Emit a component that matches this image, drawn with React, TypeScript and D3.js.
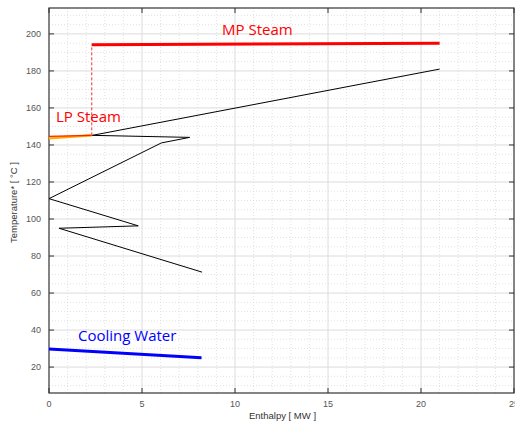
import React, { useEffect, useRef } from 'react';
import * as d3 from 'd3';

// --- Data ---
const processCurveH = [21, 2.33, 7.56, 6.04, 0, 4.8, 0.54, 8.23];
const processCurveT = [181, 145.2, 144.1, 141.1, 111, 96.3, 95, 71.3];
const mpSteamH = [2.3, 21];
const mpSteamT = [194.2, 195];
const lpSteamH = [0, 2.3];
const lpSteamT = [144.6, 145.2];
const lpSteamLowT = [143.6, 145.2];
const coolingH = [0, 8.2];
const coolingT = [29.8, 25];
const xTicks = [0, 5, 10, 15, 20, 25];
const yTicks = [20, 40, 60, 80, 100, 120, 140, 160, 180, 200];

const W = 515;
const H = 426;
const margin = { left: 49, right: 1, top: 8, bottom: 33 };

export default function App() {
  const svgRef = useRef<SVGSVGElement>(null);

  useEffect(() => {
    const svg = d3.select(svgRef.current);
    svg.selectAll('*').remove();

    const x = d3.scaleLinear().domain([0, 25]).range([margin.left, W - margin.right]);
    const y = d3.scaleLinear().domain([6, 214]).range([H - margin.bottom, margin.top]);
    const [x0, x1] = x.range();
    const [y0, y1] = y.range();

    // minor grid (dotted)
    const grid = svg.append('g');
    grid.selectAll('line.mx')
      .data(d3.range(1, 25).filter(v => v % 5 !== 0))
      .join('line')
      .attr('x1', d => x(d)).attr('x2', d => x(d))
      .attr('y1', y0).attr('y2', y1)
      .attr('stroke', '#d6d6d6').attr('stroke-width', 0.7)
      .attr('stroke-dasharray', '1,2');
    grid.selectAll('line.my')
      .data(d3.range(10, 214, 5).filter(v => v % 20 !== 0))
      .join('line')
      .attr('x1', x0).attr('x2', x1)
      .attr('y1', d => y(d)).attr('y2', d => y(d))
      .attr('stroke', '#d6d6d6').attr('stroke-width', 0.7)
      .attr('stroke-dasharray', '1,2');

    // major grid
    grid.selectAll('line.gx')
      .data(xTicks.slice(1, -1))
      .join('line')
      .attr('x1', d => x(d)).attr('x2', d => x(d))
      .attr('y1', y0).attr('y2', y1)
      .attr('stroke', '#dcdcdc').attr('stroke-width', 1);
    grid.selectAll('line.gy')
      .data(yTicks)
      .join('line')
      .attr('x1', x0).attr('x2', x1)
      .attr('y1', d => y(d)).attr('y2', d => y(d))
      .attr('stroke', '#dcdcdc').attr('stroke-width', 1);

    // ticks, inward on all four sides
    const tk = svg.append('g').attr('stroke', '#333').attr('stroke-width', 1);
    xTicks.forEach(v => {
      tk.append('line').attr('x1', x(v)).attr('x2', x(v)).attr('y1', y0).attr('y2', y0 - 5);
      tk.append('line').attr('x1', x(v)).attr('x2', x(v)).attr('y1', y1).attr('y2', y1 + 5);
    });
    yTicks.forEach(v => {
      tk.append('line').attr('x1', x0).attr('x2', x0 + 5).attr('y1', y(v)).attr('y2', y(v));
      tk.append('line').attr('x1', x1).attr('x2', x1 - 5).attr('y1', y(v)).attr('y2', y(v));
    });

    // frame
    svg.append('rect')
      .attr('x', x0).attr('y', y1)
      .attr('width', x1 - x0).attr('height', y0 - y1)
      .attr('fill', 'none').attr('stroke', '#333').attr('stroke-width', 1.2);

    // tick labels
    const lbl = svg.append('g')
      .attr('font-family', 'Liberation Sans, Arial, sans-serif')
      .attr('font-size', 9).attr('fill', '#555');
    lbl.selectAll('text.xt')
      .data(xTicks)
      .join('text')
      .attr('x', d => x(d)).attr('y', y0 + 14)
      .attr('text-anchor', 'middle')
      .text(d => d);
    lbl.selectAll('text.yt')
      .data(yTicks)
      .join('text')
      .attr('x', x0 - 8).attr('y', d => y(d) + 3)
      .attr('text-anchor', 'end')
      .text(d => d);

    // axis titles
    svg.append('text')
      .attr('x', (x0 + x1) / 2 + 1).attr('y', H - 7)
      .attr('text-anchor', 'middle')
      .attr('font-family', 'Liberation Sans, Arial, sans-serif')
      .attr('font-size', 9.5).attr('fill', '#333')
      .text('Enthalpy [ MW ]');
    svg.append('text')
      .attr('transform', `translate(17,${(y0 + y1) / 2 + 2}) rotate(-90)`)
      .attr('text-anchor', 'middle')
      .attr('font-family', 'Liberation Sans, Arial, sans-serif')
      .attr('font-size', 9.5).attr('fill', '#333')
      .text('Temperature* [ °C ]');

    const line = d3.line<[number, number]>().x(d => x(d[0])).y(d => y(d[1]));
    const pts = (hs: number[], ts: number[]) => hs.map((h, i) => [h, ts[i]] as [number, number]);

    // dashed link between LP and MP steam
    svg.append('path')
      .attr('d', line([[mpSteamH[0], lpSteamT[1]], [mpSteamH[0], mpSteamT[0]]]))
      .attr('stroke', '#f03030').attr('stroke-width', 1)
      .attr('stroke-dasharray', '3,2').attr('fill', 'none');

    // process curve
    svg.append('path')
      .attr('d', line(pts(processCurveH, processCurveT)))
      .attr('stroke', '#000').attr('stroke-width', 1).attr('fill', 'none');

    // MP steam
    svg.append('path')
      .attr('d', line(pts(mpSteamH, mpSteamT)))
      .attr('stroke', '#ff0000').attr('stroke-width', 3).attr('fill', 'none');

    // LP steam (orange under red)
    svg.append('path')
      .attr('d', line(pts(lpSteamH, lpSteamLowT)))
      .attr('stroke', '#ffb000').attr('stroke-width', 2.5).attr('fill', 'none');
    svg.append('path')
      .attr('d', line(pts(lpSteamH, lpSteamT)))
      .attr('stroke', '#ff2000').attr('stroke-width', 1.3).attr('fill', 'none');

    // cooling water
    svg.append('path')
      .attr('d', line(pts(coolingH, coolingT)))
      .attr('stroke', '#0000ff').attr('stroke-width', 3).attr('fill', 'none');

    // stream labels
    const ann = svg.append('g')
      .attr('font-family', 'Open Sans, Noto Sans, sans-serif')
      .attr('font-size', 15);
    ann.append('text').attr('x', 222).attr('y', 35).attr('fill', '#ff0000').text('MP Steam');
    ann.append('text').attr('x', 56).attr('y', 122).attr('fill', '#ff0000').text('LP Steam');
    ann.append('text').attr('x', 78).attr('y', 341).attr('fill', '#0000ff').text('Cooling Water');
  }, []);

  return (
    <svg ref={svgRef} width={W} height={H} style={{ position: 'absolute', left: 0, top: 0 }} />
  );
}
